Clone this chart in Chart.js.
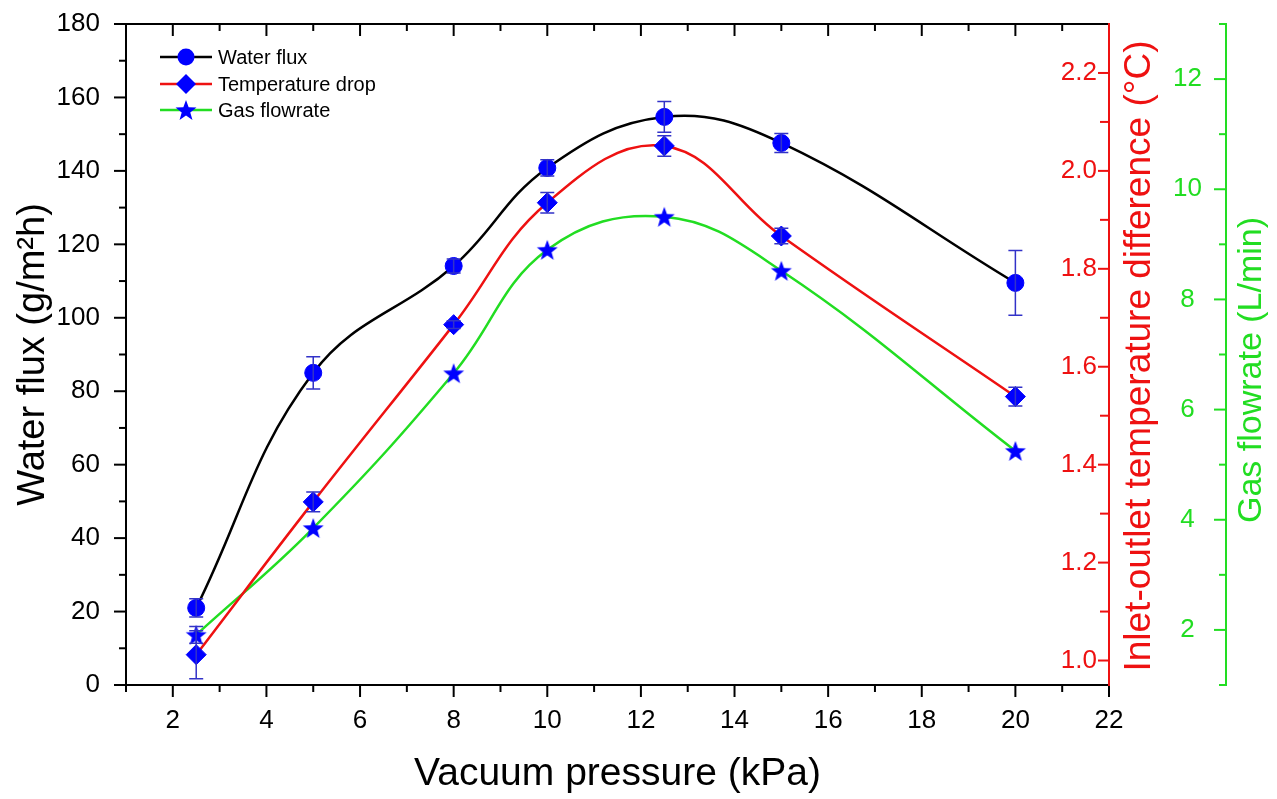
<!DOCTYPE html>
<html><head><meta charset="utf-8">
<script src="https://cdn.jsdelivr.net/npm/chart.js@4.4.1/dist/chart.umd.min.js"></script>
<style>html,body{margin:0;padding:0;background:#fff;overflow:hidden}</style>
</head><body>
<canvas id="c" width="1277" height="799"></canvas>
<script>
// ---------- data ----------
const pressure = [2.5, 5, 8, 10, 12.5, 15, 20];
const waterFlux = [21.0, 85.0, 114.1, 140.8, 154.7, 147.6, 109.5];
const waterFluxErr = [2.5, 4.4, 1.9, 2.2, 4.2, 2.6, 8.8];
const tempDrop = [1.012, 1.324, 1.686, 1.935, 2.051, 1.867, 1.539];
const tempDropErr = [0.049, 0.02, 0.008, 0.021, 0.021, 0.016, 0.019];
const gasFlow = [1.91, 3.85, 6.66, 8.90, 9.50, 8.52, 5.25];
const gasFlowErr = [0.15, 0, 0, 0, 0, 0, 0];
const seriesNames = ['Water flux', 'Temperature drop', 'Gas flowrate'];

const xTicks = [2, 4, 6, 8, 10, 12, 14, 16, 18, 20, 22];
const xMinorTicks = [1, 3, 5, 7, 9, 11, 13, 15, 17, 19, 21];
const fluxTicks = [0, 20, 40, 60, 80, 100, 120, 140, 160, 180];
const fluxMinorTicks = [10, 30, 50, 70, 90, 110, 130, 150, 170];
const tempTicks = [1.0, 1.2, 1.4, 1.6, 1.8, 2.0, 2.2];
const tempMinorTicks = [1.1, 1.3, 1.5, 1.7, 1.9, 2.1];
const gasTicks = [2, 4, 6, 8, 10, 12];
const gasMinorTicks = [1, 3, 5, 7, 9, 11, 13];

// ---------- styles ----------
const FONT = 'Arial, "Liberation Sans", sans-serif';
const RED = '#ee1111';
const GREEN = '#22dd22';
const BLUE = '#0000ff';
const ERR = '#3232c8';

function makeStar(size, outer, inner) {
  const c = document.createElement('canvas');
  c.width = size; c.height = size;
  const g = c.getContext('2d');
  g.fillStyle = BLUE;
  g.beginPath();
  for (let i = 0; i < 10; i++) {
    const r = i % 2 === 0 ? outer : inner;
    const a = -Math.PI / 2 + i * Math.PI / 5;
    const px = size / 2 + r * Math.cos(a), py = size / 2 + r * Math.sin(a) + 1;
    if (i === 0) g.moveTo(px, py); else g.lineTo(px, py);
  }
  g.closePath(); g.fill();
  return c;
}
const starImg = makeStar(24, 11, 4.5);

const pts = (ys) => pressure.map((x, i) => ({x: x, y: ys[i]}));

const errSets = [
  {axis: 'y', vals: waterFlux, errs: waterFluxErr},
  {axis: 'y2', vals: tempDrop, errs: tempDropErr},
  {axis: 'y3', vals: gasFlow, errs: gasFlowErr}
];

const errorBarPlugin = {
  id: 'errbars',
  afterDatasetsDraw(chart) {
    const ctx = chart.ctx, xs = chart.scales.x;
    ctx.save();
    ctx.strokeStyle = ERR; ctx.lineWidth = 1.5;
    errSets.forEach(s => {
      const ys = chart.scales[s.axis];
      pressure.forEach((p, i) => {
        if (!s.errs[i]) return;
        const x = xs.getPixelForValue(p);
        const t = ys.getPixelForValue(s.vals[i] + s.errs[i]);
        const b = ys.getPixelForValue(s.vals[i] - s.errs[i]);
        ctx.beginPath();
        ctx.moveTo(x, t); ctx.lineTo(x, b);
        ctx.moveTo(x - 7, t); ctx.lineTo(x + 7, t);
        ctx.moveTo(x - 7, b); ctx.lineTo(x + 7, b);
        ctx.stroke();
      });
    });
    ctx.restore();
  }
};

function seg(ctx, x1, y1, x2, y2) { ctx.beginPath(); ctx.moveTo(x1, y1); ctx.lineTo(x2, y2); ctx.stroke(); }

const framePlugin = {
  id: 'frame',
  afterDraw(chart) {
    const {ctx, chartArea: a, scales} = chart;
    const xs = scales.x, ys = scales.y, y2 = scales.y2, y3 = scales.y3;
    ctx.save();
    ctx.lineWidth = 2; ctx.strokeStyle = '#000';
    seg(ctx, a.left, a.top - 1, a.left, a.bottom + 1);
    seg(ctx, a.left - 1, a.bottom, a.right, a.bottom);
    seg(ctx, a.left - 1, a.top, a.right, a.top);
    xTicks.forEach(v => { const x = xs.getPixelForValue(v);
      seg(ctx, x, a.bottom, x, a.bottom + 12); seg(ctx, x, a.top, x, a.top + 12); });
    xMinorTicks.forEach(v => { const x = xs.getPixelForValue(v);
      seg(ctx, x, a.bottom, x, a.bottom + 7); seg(ctx, x, a.top, x, a.top + 7); });
    fluxTicks.forEach(v => { const y = ys.getPixelForValue(v); seg(ctx, a.left - 12, y, a.left, y); });
    fluxMinorTicks.forEach(v => { const y = ys.getPixelForValue(v); seg(ctx, a.left - 7, y, a.left, y); });
    // red axis
    ctx.strokeStyle = RED;
    seg(ctx, a.right, a.top - 1, a.right, a.bottom + 1);
    tempTicks.forEach(v => { const y = y2.getPixelForValue(v); seg(ctx, a.right - 11, y, a.right, y); });
    tempMinorTicks.forEach(v => { const y = y2.getPixelForValue(v); seg(ctx, a.right - 9, y, a.right, y); });
    // green axis
    const gx = y3.right + 11;
    ctx.strokeStyle = GREEN;
    seg(ctx, gx, a.top - 1, gx, a.bottom + 1);
    gasTicks.forEach(v => { const y = y3.getPixelForValue(v); seg(ctx, gx - 12, y, gx, y); });
    gasMinorTicks.forEach(v => { const y = y3.getPixelForValue(v); seg(ctx, gx - 7, y, gx, y); });
    // right-side titles
    ctx.textAlign = 'center'; ctx.textBaseline = 'middle';
    ctx.font = '37px ' + FONT;
    ctx.save(); ctx.translate(a.right + 31, 356); ctx.rotate(-Math.PI / 2);
    ctx.fillStyle = RED; ctx.fillText('Inlet-outlet temperature difference (\u00B0C)', 0, 0); ctx.restore();
    ctx.font = '34px ' + FONT;
    ctx.save(); ctx.translate(gx + 26, 370); ctx.rotate(-Math.PI / 2);
    ctx.fillStyle = GREEN; ctx.fillText('Gas flowrate (L/min)', 0, 0); ctx.restore();
    // legend
    const lineCols = ['#000000', RED, GREEN];
    const rows = [57, 84, 110];
    ctx.font = '20px ' + FONT; ctx.textAlign = 'left';
    seriesNames.forEach((name, i) => {
      const y = rows[i];
      ctx.strokeStyle = lineCols[i]; ctx.lineWidth = 2.5;
      seg(ctx, 160, y, 212, y);
      ctx.fillStyle = BLUE;
      ctx.beginPath();
      if (i === 0) { ctx.arc(186, y, 8.5, 0, Math.PI * 2); ctx.fill(); }
      else if (i === 1) { ctx.moveTo(176, y); ctx.lineTo(186, y - 10); ctx.lineTo(196, y); ctx.lineTo(186, y + 10); ctx.closePath(); ctx.fill(); }
      else { ctx.drawImage(starImg, 186 - 12, y - 12); }
      ctx.fillStyle = '#000';
      ctx.fillText(name, 218, y + 1);
    });
    ctx.restore();
  }
};

const tickFont = {family: FONT, size: 26};
const noPadV = (w) => (s) => { s.width = w; s.paddingTop = 0; s.paddingBottom = 0; };

new Chart(document.getElementById('c'), {
  type: 'line',
  data: {
    datasets: [
      {label: seriesNames[0], data: pts(waterFlux), yAxisID: 'y', borderColor: '#000000', borderWidth: 2.5,
       pointStyle: 'circle', pointRadius: 8.5, pointBackgroundColor: BLUE, pointBorderColor: BLUE, pointBorderWidth: 1, tension: 0.4},
      {label: seriesNames[1], data: pts(tempDrop), yAxisID: 'y2', borderColor: RED, borderWidth: 2.5,
       pointStyle: 'rectRot', pointRadius: 10, pointBackgroundColor: BLUE, pointBorderColor: BLUE, pointBorderWidth: 1, tension: 0.4},
      {label: seriesNames[2], data: pts(gasFlow), yAxisID: 'y3', borderColor: GREEN, borderWidth: 2.5,
       pointStyle: starImg, pointRadius: 10, pointBackgroundColor: BLUE, pointBorderColor: BLUE, tension: 0.4}
    ]
  },
  options: {
    responsive: false, animation: false, devicePixelRatio: 1,
    layout: {padding: {top: 24, right: 62, left: 0, bottom: 0}},
    plugins: {legend: {display: false}, tooltip: {enabled: false}},
    scales: {
      x: {type: 'linear', position: 'bottom', min: 1, max: 22,
        afterBuildTicks: s => { s.ticks = xTicks.map(v => ({value: v})); },
        afterFit: s => { s.height = 114; s.paddingLeft = 0; s.paddingRight = 0; },
        grid: {display: false, drawTicks: false}, border: {display: false},
        ticks: {padding: 20, font: tickFont, color: '#000', maxRotation: 0, autoSkip: false},
        title: {display: true, text: 'Vacuum pressure (kPa)', font: {family: FONT, size: 39}, color: '#000', padding: {top: 0, bottom: 1}}
      },
      y: {type: 'linear', position: 'left', min: 0, max: 180,
        afterBuildTicks: s => { s.ticks = fluxTicks.map(v => ({value: v})); },
        afterFit: noPadV(126),
        grid: {display: false, drawTicks: false}, border: {display: false},
        ticks: {padding: 26, font: tickFont, color: '#000', autoSkip: false},
        title: {display: true, text: 'Water flux (g/m\u00B2h)', font: {family: FONT, size: 38}, color: '#000', padding: {top: 11, bottom: 0}}
      },
      y2: {type: 'linear', position: 'right', min: 0.95, max: 2.30, weight: 0,
        afterBuildTicks: s => { s.ticks = tempTicks.map(v => ({value: v})); },
        afterFit: noPadV(56),
        grid: {display: false, drawTicks: false}, border: {display: false},
        ticks: {mirror: true, padding: -12, font: tickFont, color: RED, autoSkip: false, callback: v => Number(v).toFixed(1)}
      },
      y3: {type: 'linear', position: 'right', min: 1, max: 13, weight: 1,
        afterBuildTicks: s => { s.ticks = gasTicks.map(v => ({value: v})); },
        afterFit: noPadV(50),
        grid: {display: false, drawTicks: false}, border: {display: false},
        ticks: {crossAlign: 'center', padding: 8, font: tickFont, color: GREEN, autoSkip: false}
      }
    }
  },
  plugins: [errorBarPlugin, framePlugin]
});
</script>
</body></html>
